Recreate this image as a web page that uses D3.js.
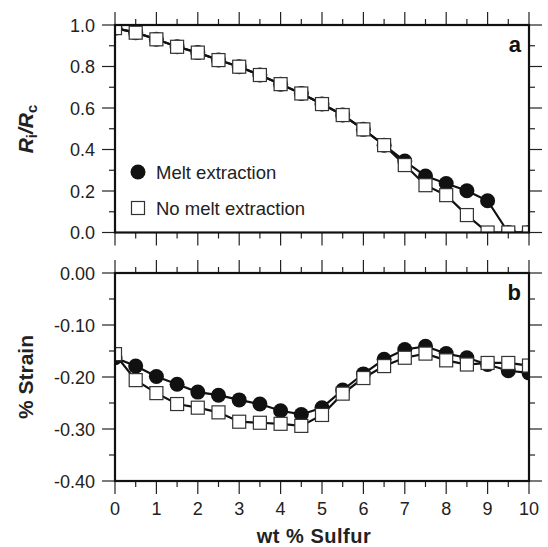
<!DOCTYPE html>
<html>
<head>
<meta charset="utf-8">
<script src="https://cdn.jsdelivr.net/npm/d3@7"></script>
<style>
  html, body { margin: 0; padding: 0; background: #fff; }
  svg { display: block; font-family: "Liberation Sans", Arial, Helvetica, sans-serif; }
</style>
</head>
<body>
<svg id="chart" width="548" height="547"></svg>
<script>
// ---------------- data ----------------
const sulfur = [0, 0.5, 1, 1.5, 2, 2.5, 3, 3.5, 4, 4.5, 5, 5.5, 6, 6.5, 7, 7.5, 8, 8.5, 9, 9.5, 10];

const riRcMelt   = [0.985, 0.963, 0.931, 0.895, 0.867, 0.831, 0.799, 0.759, 0.715, 0.670, 0.619, 0.566, 0.497, 0.421, 0.344, 0.272, 0.236, 0.201, 0.153, 0.0, 0.0];
const riRcNoMelt = [0.985, 0.963, 0.931, 0.895, 0.867, 0.831, 0.799, 0.759, 0.715, 0.670, 0.619, 0.566, 0.497, 0.421, 0.325, 0.228, 0.180, 0.084, 0.0, 0.0, 0.0];

const strainMelt   = [-0.163, -0.179, -0.199, -0.214, -0.229, -0.235, -0.244, -0.252, -0.265, -0.272, -0.259, -0.225, -0.194, -0.166, -0.147, -0.141, -0.155, -0.163, -0.176, -0.188, -0.192];
const strainNoMelt = [-0.156, -0.206, -0.231, -0.252, -0.259, -0.268, -0.286, -0.288, -0.290, -0.294, -0.273, -0.232, -0.202, -0.179, -0.163, -0.155, -0.168, -0.176, -0.173, -0.173, -0.178];

const xMajorTicks = [0, 1, 2, 3, 4, 5, 6, 7, 8, 9, 10];
const xMinorTicks = [0.5, 1.5, 2.5, 3.5, 4.5, 5.5, 6.5, 7.5, 8.5, 9.5];
const xTickLabels = ["0", "1", "2", "3", "4", "5", "6", "7", "8", "9", "10"];

const yMajorTicksA = [0, 0.2, 0.4, 0.6, 0.8, 1.0];
const yMinorTicksA = [0.1, 0.3, 0.5, 0.7, 0.9];
const yTickLabelsA = ["0.0", "0.2", "0.4", "0.6", "0.8", "1.0"];

const yMajorTicksB = [0, -0.1, -0.2, -0.3, -0.4];
const yMinorTicksB = [-0.05, -0.15, -0.25, -0.35];
const yTickLabelsB = ["0.00", "-0.10", "-0.20", "-0.30", "-0.40"];

const seriesNames = ["Melt extraction", "No melt extraction"];
const panelLetters = ["a", "b"];

// ---------------- layout ----------------
const svg = d3.select("#chart");
const left = 115, right = 529;
const x = d3.scaleLinear().domain([0, 10]).range([left, right]);

const panels = [
  { y: d3.scaleLinear().domain([0, 1]).range([232.5, 25]),
    major: yMajorTicksA, minor: yMinorTicksA, labels: yTickLabelsA,
    melt: riRcMelt, noMelt: riRcNoMelt, letter: panelLetters[0], id: "a" },
  { y: d3.scaleLinear().domain([-0.4, 0]).range([481, 273]),
    major: yMajorTicksB, minor: yMinorTicksB, labels: yTickLabelsB,
    melt: strainMelt, noMelt: strainNoMelt, letter: panelLetters[1], id: "b" }
];

const MAJ = 13, MIN = 6;
const tickColor = "#222";

panels.forEach((p, pi) => {
  const y = p.y;
  const top = y.range()[1], bottom = y.range()[0];
  const g = svg.append("g");

  svg.append("clipPath").attr("id", "clip" + p.id)
    .append("rect").attr("x", left).attr("y", top).attr("width", right - left).attr("height", bottom - top);

  const xt = g.append("g").attr("stroke", tickColor).attr("stroke-width", 1.2);
  xMajorTicks.forEach(v => {
    xt.append("line").attr("x1", x(v)).attr("x2", x(v)).attr("y1", top).attr("y2", top - MAJ);
    xt.append("line").attr("x1", x(v)).attr("x2", x(v)).attr("y1", bottom).attr("y2", bottom + MAJ);
  });
  xMinorTicks.forEach(v => {
    xt.append("line").attr("x1", x(v)).attr("x2", x(v)).attr("y1", top).attr("y2", top - MIN);
    xt.append("line").attr("x1", x(v)).attr("x2", x(v)).attr("y1", bottom).attr("y2", bottom + MIN);
  });
  p.major.forEach(v => {
    xt.append("line").attr("x1", left).attr("x2", left - MAJ).attr("y1", y(v)).attr("y2", y(v));
    xt.append("line").attr("x1", right).attr("x2", right + MAJ).attr("y1", y(v)).attr("y2", y(v));
  });
  p.minor.forEach(v => {
    xt.append("line").attr("x1", left).attr("x2", left - MIN).attr("y1", y(v)).attr("y2", y(v));
    xt.append("line").attr("x1", right).attr("x2", right + MIN).attr("y1", y(v)).attr("y2", y(v));
  });

  g.append("g").selectAll("text").data(p.major).join("text")
    .attr("x", left - 20).attr("y", d => y(d) + 6.5)
    .attr("text-anchor", "end").attr("font-size", 18).attr("fill", "#222")
    .text((d, i) => p.labels[i]);

  const plot = g.append("g").attr("clip-path", `url(#clip${p.id})`);
  const line = d3.line().x((d, i) => x(sulfur[i])).y(d => y(d));

  plot.append("path").datum(p.melt).attr("d", line)
    .attr("fill", "none").attr("stroke", "#111").attr("stroke-width", 2.2);
  plot.append("g").selectAll("circle").data(p.melt).join("circle")
    .attr("cx", (d, i) => x(sulfur[i])).attr("cy", d => y(d)).attr("r", 7.5)
    .attr("fill", "#111");

  plot.append("path").datum(p.noMelt).attr("d", line)
    .attr("fill", "none").attr("stroke", "#111").attr("stroke-width", 2.2);
  const S = 13;
  plot.append("g").selectAll("rect").data(p.noMelt).join("rect")
    .attr("x", (d, i) => x(sulfur[i]) - S / 2).attr("y", d => y(d) - S / 2)
    .attr("width", S).attr("height", S)
    .attr("fill", "#fff").attr("stroke", "#333").attr("stroke-width", 1.2);

  g.append("rect").attr("x", left).attr("y", top).attr("width", right - left).attr("height", bottom - top)
    .attr("fill", "none").attr("stroke", "#111").attr("stroke-width", 2.2);

  g.append("text").attr("x", 521).attr("y", top + 27)
    .attr("text-anchor", "end").attr("font-size", 22).attr("font-weight", "bold").attr("fill", "#111")
    .text(p.letter);
});

svg.append("g").selectAll("text").data(xMajorTicks).join("text")
  .attr("x", d => x(d)).attr("y", 515)
  .attr("text-anchor", "middle").attr("font-size", 18).attr("fill", "#222")
  .text((d, i) => xTickLabels[i]);

svg.append("text").attr("x", 314).attr("y", 543)
  .attr("text-anchor", "middle").attr("font-size", 20).attr("font-weight", "bold")
  .attr("letter-spacing", "0.5px").attr("fill", "#222")
  .text("wt % Sulfur");

const ta = svg.append("text").attr("transform", "translate(33,129) rotate(-90)")
  .attr("text-anchor", "middle").attr("font-size", 21).attr("font-weight", "bold").attr("fill", "#222");
ta.append("tspan").attr("font-style", "italic").text("R");
ta.append("tspan").attr("font-size", 15).attr("dy", 4).text("i");
ta.append("tspan").attr("font-style", "italic").attr("dy", -4).text("/R");
ta.append("tspan").attr("font-size", 15).attr("dy", 4).text("c");

svg.append("text").attr("transform", "translate(33,377) rotate(-90)")
  .attr("text-anchor", "middle").attr("font-size", 21).attr("font-weight", "bold").attr("fill", "#222")
  .text("% Strain");

const lg = svg.append("g");
lg.append("circle").attr("cx", 138).attr("cy", 172).attr("r", 7.5).attr("fill", "#111");
lg.append("text").attr("x", 156).attr("y", 178.5).attr("font-size", 18.5).attr("fill", "#222").text(seriesNames[0]);
lg.append("rect").attr("x", 138 - 6.5).attr("y", 208 - 6.5).attr("width", 13).attr("height", 13)
  .attr("fill", "#fff").attr("stroke", "#333").attr("stroke-width", 1.2);
lg.append("text").attr("x", 156).attr("y", 214.5).attr("font-size", 18.5).attr("fill", "#222").text(seriesNames[1]);
</script>
</body>
</html>
